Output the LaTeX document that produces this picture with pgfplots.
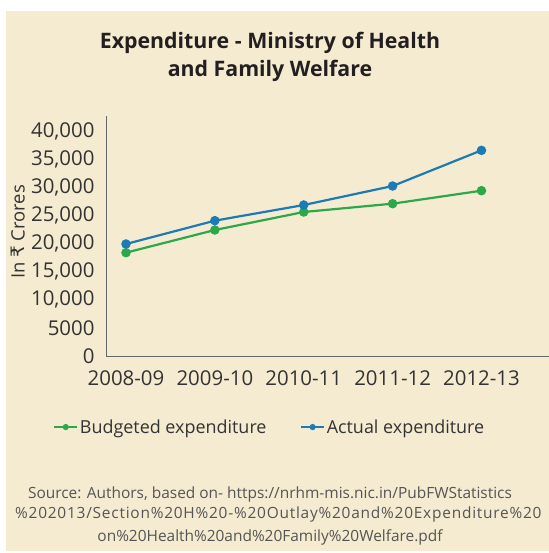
\documentclass[border=0pt]{standalone}
\usepackage{pgfplots}
\pgfplotsset{compat=1.18}
\usepackage{fontspec}
\setmainfont{Open Sans}
\newfontfamily\srcwide{Open Sans}[LetterSpace=5]
\newfontfamily\rupee{DejaVu Sans}
\definecolor{bg}{HTML}{F5EBD0}
\definecolor{cgreen}{HTML}{2BA84A}
\definecolor{cblue}{HTML}{1C7AB4}
\definecolor{txt}{HTML}{333333}
\definecolor{ttl}{HTML}{231F20}
\definecolor{src}{HTML}{555555}
\begin{document}
\begin{tikzpicture}
\useasboundingbox (0,0) rectangle (549bp,-553bp);
\fill[bg] (6bp,-11bp) rectangle (549bp,-551bp);
\node[font=\bfseries\fontsize{21.4}{28}\selectfont, text=ttl, align=center] at (270bp,-57bp) {Expenditure - Ministry of Health\\and Family Welfare};
\node[font=\fontsize{18.5}{20}\selectfont, text=txt, rotate=90] at (18bp,-232bp) {In {\rupee ₹} Crores};
\begin{axis}[at={(106bp,-356bp)}, anchor=south west, scale only axis,
  width=443bp, height=240bp,
  xmin=-0.225, xmax=4.76, ymin=0, ymax=42667,
  scaled y ticks=false,
  axis x line=bottom, axis y line=left,
  axis line style={-, draw=black!60, line width=0.8bp},
  xtick={0,1,2,3,4},
  xticklabels={2008-09,2009-10,2010-11,2011-12,2012-13},
  ytick={0,5000,10000,15000,20000,25000,30000,35000,40000},
  yticklabels={0,5000,{10,000},{15,000},{20,000},{25,000},{30,000},{35,000},{40,000}},
  major tick length=0pt,
  tick label style={font=\fontsize{20.5}{22}\selectfont, text=txt},
  yticklabel style={xshift=-8bp},
  xticklabel style={yshift=-11bp},
  legend style={at={(0.37,-0.296)}, anchor=center, draw=none, fill=none,
    legend columns=2, font=\fontsize{18}{20}\selectfont, text=txt,
    /tikz/every even column/.append style={column sep=32bp}},
  legend image code/.code={\draw[mark repeat=2,mark phase=2,#1,line width=1.3bp,mark size=2.4bp] plot coordinates {(0bp,0bp) (11.5bp,0bp) (23bp,0bp)};},
]
\addplot[color=cgreen, line width=2.2bp, mark=*, mark size=3.6bp] coordinates {
  (0,18370) (1,22400) (2,25600) (3,27080) (4,29390)};
\addlegendentry{Budgeted expenditure}
\addplot[color=cblue, line width=2.2bp, mark=*, mark size=3.6bp] coordinates {
  (0,19910) (1,24060) (2,26840) (3,30220) (4,36560)};
\addlegendentry{Actual expenditure}
\end{axis}
\node[font=\fontsize{15.5}{20}\selectfont, text=src] at (270bp,-494bp) {Source: Authors, based on- https://nrhm-mis.nic.in/PubFWStatistics};
\node[font=\srcwide\fontsize{15.5}{20}\selectfont, text=src, anchor=west, inner xsep=0pt] at (15bp,-514bp) {\%202013/Section\%20H\%20-\%20Outlay\%20and\%20Expenditure\%20};
\node[font=\fontsize{15.5}{20}\selectfont, text=src] at (270bp,-537bp) {on\%20Health\%20and\%20Family\%20Welfare.pdf};
\end{tikzpicture}
\end{document}
